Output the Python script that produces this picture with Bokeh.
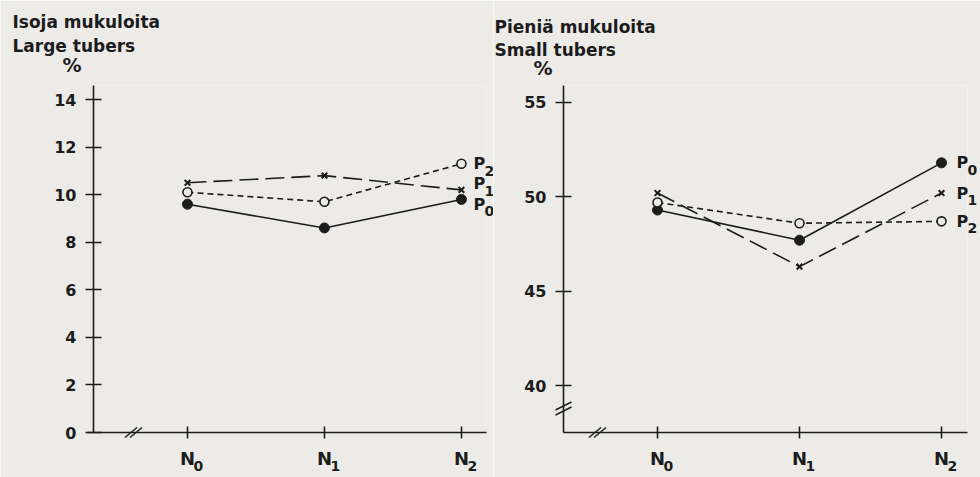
from bokeh.plotting import figure
from bokeh.layouts import row
from bokeh.models import ColumnDataSource, Range1d, FixedTicker
from bokeh.core.properties import value
from bokeh.embed import file_html
from bokeh.resources import INLINE

# ---------------- data ----------------
categories = ["N0", "N1", "N2"]
cat_main = ["N", "N", "N"]
cat_sub = ["0", "1", "2"]
series_names = ["P0", "P1", "P2"]
series_main = ["P", "P", "P"]
series_sub = ["0", "1", "2"]

large_titles = ["Isoja mukuloita", "Large tubers"]
small_titles = ["Pieniä mukuloita", "Small tubers"]
unit_label = "%"

large_P0 = [9.6, 8.6, 9.8]
large_P1 = [10.5, 10.8, 10.2]
large_P2 = [10.1, 9.7, 11.3]
small_P0 = [49.3, 47.7, 51.8]
small_P1 = [50.2, 46.3, 50.2]
small_P2 = [49.7, 48.6, 48.7]

large_ticks = [0, 2, 4, 6, 8, 10, 12, 14]
small_ticks = [40, 45, 50, 55]

# ---------------- style ----------------
INK = "#1c1c1c"
BG = "#ecebe8"
FONT = "DejaVu Sans"
H = 477
MB_TOP = 85
MB_BOTTOM = 45


def make_panel(width, mb_left, mb_right, x_start, x_end, y_start, y_end, ticks,
               p0, p1, p2, titles, title_x, title_mid, pct_x, pct_mid,
               lab_dx, lab_dy, xbreak_px, ybreak_px=None, axis_ext=0):
    fw = width - mb_left - mb_right
    fh = H - MB_TOP - MB_BOTTOM

    def dx(fx):
        return x_start + (fx - mb_left) / fw * (x_end - x_start)

    def dy(fy):
        return y_end - (fy - MB_TOP) / fh * (y_end - y_start)

    ux = (x_end - x_start) / fw
    uy = (y_end - y_start) / fh

    p = figure(width=width, height=H, output_backend="svg", toolbar_location=None,
               x_range=Range1d(x_start, x_end), y_range=Range1d(y_start, y_end),
               min_border_left=mb_left, min_border_right=mb_right,
               min_border_top=MB_TOP, min_border_bottom=MB_BOTTOM)
    p.outline_line_color = None
    p.grid.visible = False
    p.background_fill_color = BG
    p.border_fill_color = BG

    xi = list(range(len(categories)))

    # axes
    xa = p.xaxis[0]
    xa.ticker = FixedTicker(ticks=xi)
    xa.major_label_overrides = {i: cat_main[i] for i in xi}
    ya = p.yaxis[0]
    ya.ticker = FixedTicker(ticks=ticks)
    for ax in (xa, ya):
        ax.axis_line_color = INK
        ax.axis_line_width = 1.6
        ax.major_tick_line_color = INK
        ax.major_tick_line_width = 1.6
        ax.minor_tick_line_color = None
        ax.major_label_text_font = FONT
        ax.major_label_text_font_style = "bold"
        ax.major_label_text_color = INK
    xa.major_tick_in = 6
    xa.major_tick_out = 6
    xa.major_label_standoff = 9
    xa.major_label_text_font_size = "18px"
    ya.major_tick_in = 8
    ya.major_tick_out = 8
    ya.major_label_standoff = 9
    ya.major_label_text_font_size = "16px"

    # x subscripts (N0, N1, N2)
    sub_src = ColumnDataSource(dict(x=xi, y=[y_start] * len(xi), t=cat_sub))
    p.text("x", "y", text="t", source=sub_src, x_offset=6, y_offset=33,
           text_font=value(FONT), text_font_style="bold", text_font_size="14px",
           text_color=INK, text_align="left", text_baseline="middle", level="overlay")

    # series
    src = ColumnDataSource(dict(x=xi, p0=p0, p1=p1, p2=p2))
    p.line("x", "p2", source=src, line_color=INK, line_width=1.6, line_dash="6 4")
    p.line("x", "p1", source=src, line_color=INK, line_width=1.6, line_dash="19 7")
    p.line("x", "p0", source=src, line_color=INK, line_width=1.6)
    p.scatter("x", "p0", source=src, marker="circle", size=10, fill_color=INK, line_color=INK)
    p.scatter("x", "p1", source=src, marker="x", size=8, line_color=INK, line_width=2)
    p.scatter("x", "p2", source=src, marker="circle", size=9, fill_color=BG, line_color=INK,
              line_width=1.6)

    # end labels P0/P1/P2
    last = xi[-1]
    lab_src = ColumnDataSource(dict(x=[last] * 3, y=[p0[-1], p1[-1], p2[-1]],
                                    t=series_main, s=series_sub, dy=lab_dy,
                                    dys=[d + 7 for d in lab_dy]))
    p.text("x", "y", text="t", source=lab_src, x_offset=lab_dx, y_offset="dy",
           text_font=value(FONT), text_font_style="bold", text_font_size="16px",
           text_color=INK, text_align="left", text_baseline="middle", level="overlay")
    p.text("x", "y", text="s", source=lab_src, x_offset=lab_dx + 11, y_offset="dys",
           text_font=value(FONT), text_font_style="bold", text_font_size="14px",
           text_color=INK, text_align="left", text_baseline="middle", level="overlay")

    # titles
    p.text(x=[dx(title_x)] * len(titles), y=[dy(m + 1) for m in title_mid], text=titles,
           text_font=value(FONT), text_font_style="bold", text_font_size="17px",
           text_color=INK, text_align="left", text_baseline="middle", level="overlay")
    p.text(x=[dx(pct_x)], y=[dy(pct_mid + 1)], text=[unit_label],
           text_font=value(FONT), text_font_style="bold", text_font_size="19px",
           text_color=INK, text_align="left", text_baseline="middle", level="overlay")

    # axis break marks (and short axis overhang)
    x0s, y0s, x1s, y1s = [], [], [], []
    for off in (-2.5, 2.5):
        cx = dx(xbreak_px + off)
        x0s.append(cx - 6 * ux); y0s.append(y_start - 5 * uy)
        x1s.append(cx + 6 * ux); y1s.append(y_start + 5 * uy)
    if ybreak_px is not None:
        for off in (-2.5, 2.5):
            cy = dy(ybreak_px + off)
            x0s.append(x_start - 8 * ux); y0s.append(cy - 4 * uy)
            x1s.append(x_start + 8 * ux); y1s.append(cy + 4 * uy)
    if axis_ext:
        x0s.append(x_start - axis_ext * ux); y0s.append(y_start)
        x1s.append(x_start); y1s.append(y_start)
    p.segment(x0=x0s, y0=y0s, x1=x1s, y1=y1s, line_color=INK, line_width=1.5, level="overlay")
    return p


left = make_panel(493, 93, 7, -0.686, 2.183, 0, 14.59, large_ticks,
                  large_P0, large_P1, large_P2, large_titles, 12, [20, 44.5], 62, 63.5,
                  12, [5, -6, 0], 133, axis_ext=6)
right = make_panel(487, 70, 13, -0.662, 2.183, 37.51, 55.9, small_ticks,
                   small_P0, small_P1, small_P2, small_titles, 1, [25, 48], 40, 66.5,
                   15, [0, 0, 0], 104, 408)

layout = row(left, right)
open("out.html", "w").write(file_html(layout, INLINE))
